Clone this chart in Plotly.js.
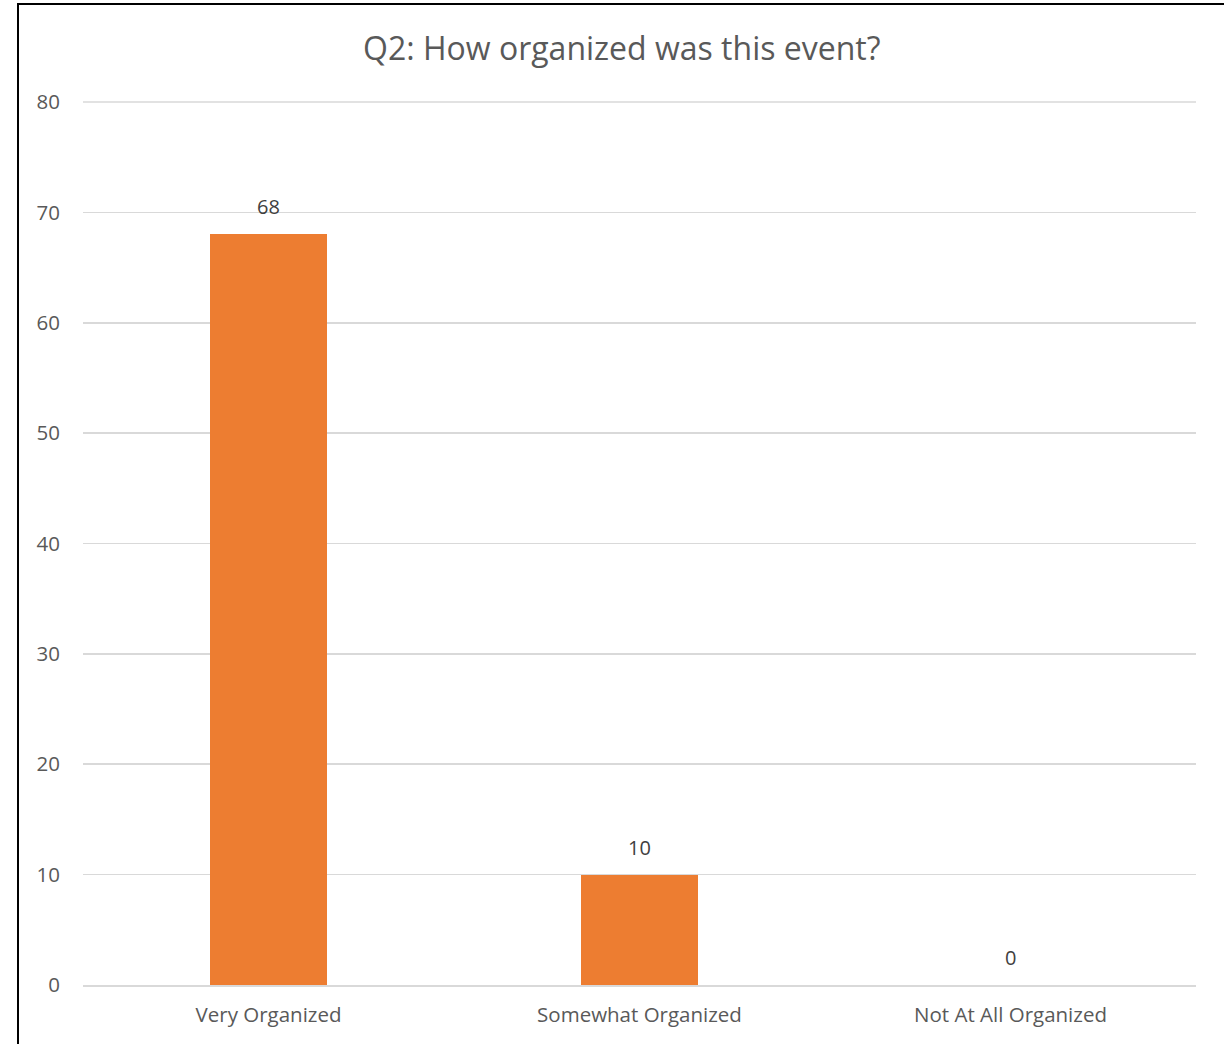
<!DOCTYPE html>
<html>
<head>
<meta charset="utf-8">
<script src="https://cdn.plot.ly/plotly-3.0.1.min.js"></script>
<style>
  html, body { margin: 0; padding: 0; background: #fff; overflow: hidden; }
  #frame { position: absolute; left: 17px; top: 3px; width: 1400px; height: 1200px; border: 2px solid #000; box-sizing: border-box; }
  #chart { position: absolute; left: 0; top: 0; width: 1224px; height: 1044px; }
</style>
</head>
<body>
<div id="frame"></div>
<div id="chart"></div>
<script>
const categories = ["Very Organized", "Somewhat Organized", "Not At All Organized"];
const counts = [68, 10, 0];
const tickValues = [0, 10, 20, 30, 40, 50, 60, 70, 80];
const chartTitle = "Q2: How organized was this event?";

const font = "Open Sans, Liberation Sans, sans-serif";

const labelAnnotations = categories.map((c, i) => ({
  x: c, y: counts[i], xref: "x", yref: "y",
  text: String(counts[i]),
  showarrow: false,
  yanchor: "bottom",
  yshift: 12,
  font: { family: font, size: 20, color: "#404040" }
}));

Plotly.newPlot("chart", [{
  type: "bar",
  x: categories,
  y: counts,
  marker: { color: "#ED7D31" },
  width: 0.313,
  hoverinfo: "x+y"
}], {
  width: 1224,
  height: 1044,
  paper_bgcolor: "rgba(0,0,0,0)",
  plot_bgcolor: "rgba(0,0,0,0)",
  margin: { l: 83, r: 28, t: 102, b: 59 },
  title: {
    text: chartTitle,
    x: 0.508, xanchor: "center",
    y: 0.953, yanchor: "middle",
    font: { family: font, size: 32, color: "#595959" }
  },
  showlegend: false,
  annotations: labelAnnotations,
  shapes: [{
    type: "line", xref: "paper", yref: "paper",
    x0: 0, x1: 1, y0: 1, y1: 1,
    line: { color: "#d9d9d9", width: 1.6 },
    layer: "below"
  }],
  xaxis: {
    type: "category",
    showgrid: false,
    showline: true,
    linecolor: "#d9d9d9",
    linewidth: 1.6,
    ticks: "",
    ticklabelstandoff: 11,
    tickfont: { family: font, size: 20.5, color: "#595959" },
    fixedrange: true
  },
  yaxis: {
    range: [0, 80],
    tickvals: tickValues,
    showgrid: true,
    gridcolor: "#d9d9d9",
    gridwidth: 1.6,
    zeroline: false,
    showline: false,
    ticks: "",
    ticklabelstandoff: 22,
    tickfont: { family: font, size: 20.5, color: "#595959" },
    fixedrange: true
  },
  bargap: 0
}, { displayModeBar: false, staticPlot: true });
</script>
</body>
</html>
